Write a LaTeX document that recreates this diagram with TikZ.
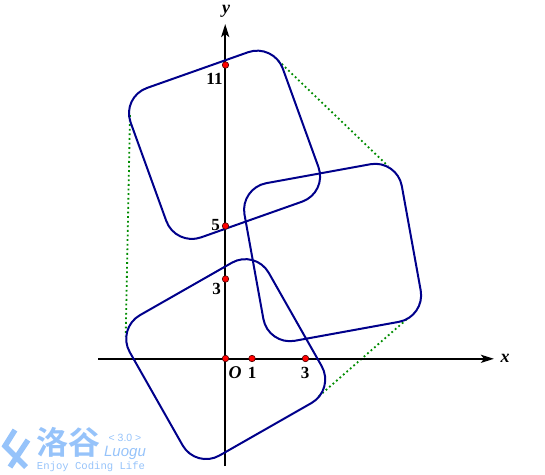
\documentclass[tikz,border=0pt]{standalone}
\usepackage{fontspec}
\setmainfont{Liberation Serif}
\newfontfamily\cjkfont{Noto Sans CJK SC}[BoldFont={Noto Sans CJK SC Bold}]
\newfontfamily\logomono{Liberation Mono}
\newfontfamily\logosans{Liberation Sans}
\usetikzlibrary{arrows.meta}
\definecolor{sqblue}{RGB}{0,0,139}
\definecolor{hullgreen}{RGB}{0,140,0}
\definecolor{logoblue}{RGB}{150,195,250}
\tikzset{
  axis/.style={line width=2.1pt,-{Stealth[length=13pt,width=8pt,inset=3pt]}},
  square/.style={draw=sqblue,line width=2pt,rounded corners=27pt},
  hull/.style={draw=hullgreen,line width=1.8pt,dash pattern=on 1.8pt off 2.8pt},
  dot/.style={circle,draw=black!70!red,line width=.6pt,fill=red,inner sep=0pt,minimum size=6.5pt},
  num/.style={font=\bfseries\fontsize{17}{17}\selectfont,inner sep=0pt},
  varlab/.style={font=\bfseries\itshape\fontsize{18}{18}\selectfont,inner sep=0pt},
  logotext/.style={text=logoblue,inner sep=0pt}
}
\begin{document}
\begin{tikzpicture}[x=1pt,y=-1pt]
\useasboundingbox (0,0) rectangle (545,474);
% hull
\coordinate (h1) at (130,115);
\coordinate (h2) at (125.7,336.7);
\coordinate (h3) at (278.3,60.7);
\coordinate (h4) at (388,166);
\coordinate (h5) at (406.7,319.3);
\coordinate (h6) at (318.3,396.7);
\draw[hull] (h1) -- (h2);
\draw[hull] (h3) -- (h4);
\draw[hull] (h5) -- (h6);
% axes
\coordinate (xs) at (98,358.8);
\coordinate (xe) at (494,358.8);
\coordinate (ys) at (225.2,466);
\coordinate (ye) at (225.2,24);
\draw[axis] (xs) -- (xe);
\draw[axis] (ys) -- (ye);
% squares
\draw[square] (121.4,97) -- (273.6,43.2) -- (327.7,192.6) -- (175.5,246.4) -- cycle;
\draw[square] (239.7,188) -- (397,159.4) -- (425.5,317) -- (268.2,345.6) -- cycle;
\draw[square] (116.4,328.6) -- (255.4,249.3) -- (335,389.6) -- (196,468.9) -- cycle;
% points
\node[dot] (p11) at (225.5,65) {};
\node[dot] (p5) at (225.5,226) {};
\node[dot] (p3) at (225.5,279) {};
\node[dot] (pO) at (225.5,358.5) {};
\node[dot] (q1) at (252,358.5) {};
\node[dot] (q3) at (305.5,358.5) {};
% labels
\node[num] (l11) at (214.5,79) {11};
\node[num] (l5) at (215.5,225) {5};
\node[num] (l3) at (216.5,288.5) {3};
\node[varlab] (lO) at (235,372.5) {O};
\node[num] (l1) at (252,373) {1};
\node[num] (l3x) at (305,373) {3};
\node[varlab] (lx) at (505,358) {x};
\node[varlab] (ly) at (226,11) {y};
% logo
\draw[logoblue,line width=5.5pt,line join=miter] (15,430) -- (5,446) -- (26,467);
\draw[logoblue,line width=5.5pt] (28,440) -- (10,467);
\node[logotext,anchor=center,font=\cjkfont\bfseries\fontsize{32}{32}\selectfont] (logocn) at (68,442) {洛谷};
\node[logotext,font=\logosans\fontsize{10.5}{10.5}\selectfont] (logov) at (125,437.5) {< 3.0 >};
\node[logotext,font=\logosans\itshape\fontsize{15}{15}\selectfont] (logol) at (125,453) {Luogu};
\node[logotext,font=\logomono\fontsize{10.6}{10.6}\selectfont] (logoe) at (91,467) {Enjoy Coding Life};
\end{tikzpicture}
\end{document}
